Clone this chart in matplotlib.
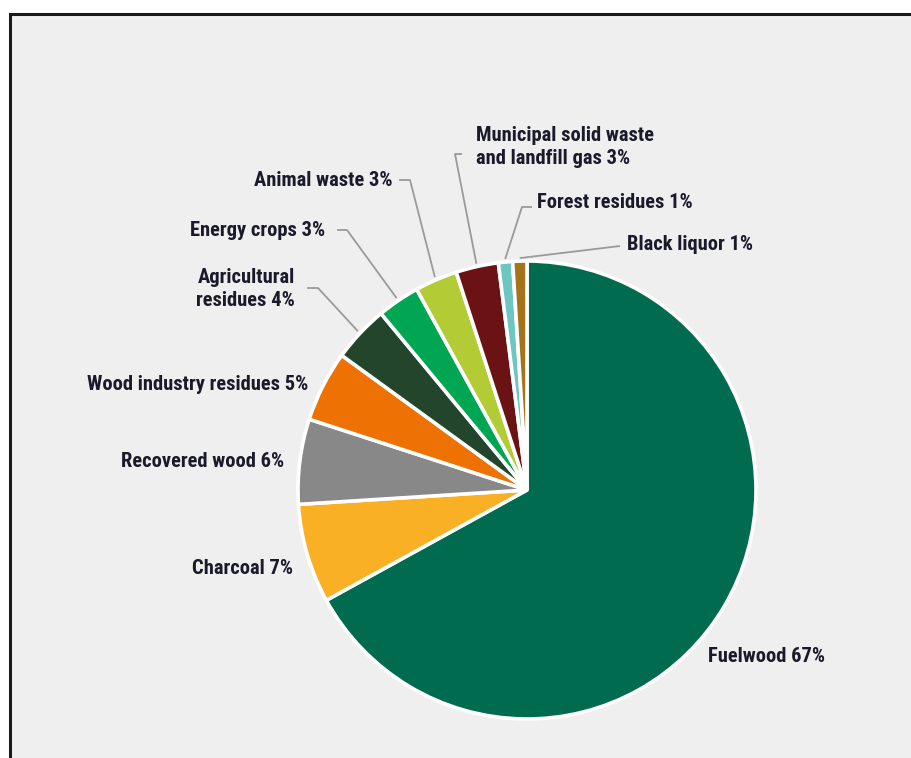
import matplotlib
matplotlib.use("Agg")
import matplotlib.pyplot as plt
from matplotlib.patches import Rectangle
from matplotlib import font_manager
import numpy as np

categories = ["Fuelwood", "Charcoal", "Recovered wood", "Wood industry residues",
              "Agricultural residues", "Energy crops", "Animal waste",
              "Municipal solid waste and landfill gas", "Forest residues", "Black liquor"]
values = [67, 7, 6, 5, 4, 3, 3, 3, 1, 1]
labels = ["Fuelwood 67%", "Charcoal 7%", "Recovered wood 6%", "Wood industry residues 5%",
          "Agricultural\nresidues 4%", "Energy crops 3%", "Animal waste 3%",
          "Municipal solid waste\nand landfill gas 3%", "Forest residues 1%", "Black liquor 1%"]
colors = ["#006b4f", "#f9b024", "#888888", "#ee7203", "#22452b", "#00a651",
          "#b3cb35", "#6a1214", "#6ec6c2", "#a5731a"]

W, H = 912, 758
fig = plt.figure(figsize=(W / 100, H / 100), dpi=100)
fig.patch.set_facecolor("white")
ax = fig.add_axes([0, 0, 1, 1])

# frame
ax.add_patch(Rectangle((10, -20), W + 40, H - 14 + 20, facecolor="#efefef",
                       edgecolor="#1a1a1a", lw=2.2, zorder=0))

cx, cy, r = 527, H - 490, 229
wedges, _ = ax.pie(values, colors=colors, startangle=90, counterclock=False,
                   center=(cx, cy), radius=r, frame=True,
                   wedgeprops=dict(edgecolor="white", linewidth=2.6))
ax.set_xlim(0, W)
ax.set_ylim(0, H)
ax.set_aspect("equal")
ax.axis("off")

avail = {f.name for f in font_manager.fontManager.ttflist}
fam = ["Liberation Sans Narrow", "DejaVu Sans"] if "Liberation Sans Narrow" in avail else ["Roboto Condensed", "Roboto", "DejaVu Sans"]
tkw = dict(fontsize=14.8, fontweight="bold", color="#1a1a2a", family=fam,
           linespacing=1.3)

# label layout: (x, y in pixels from top, ha, leader knee x pair or None, knee y)
layout = [
    (708, 657, "left", None, None),
    (293, 569, "right", None, None),
    (284, 462, "right", None, None),
    (308, 385, "right", None, None),
    (295, 289, "right", (307, 318), 288),
    (325, 230, "right", (337, 347), 230),
    (393, 180, "right", (399, 410), 180),
    (476, 147, "left", (462, 455), 154),
    (537, 203, "left", (532, 522), 207),
    (627, 245, "left", (620, 620), 246),
]

for w, lab, (lx, ly, ha, knee, ky) in zip(wedges, labels, layout):
    ax.text(lx, H - ly, lab, ha=ha, va="center", **tkw)
    if knee is not None:
        ang = np.deg2rad((w.theta1 + w.theta2) / 2)
        ex, ey = cx + (r + 3) * np.cos(ang), cy + (r + 3) * np.sin(ang)
        ax.plot([knee[0], knee[1], ex], [H - ky, H - ky, ey],
                color="#9a9a9a", lw=1.3, solid_capstyle="butt", zorder=3)

fig.savefig("out.png", dpi=100, facecolor="white")
